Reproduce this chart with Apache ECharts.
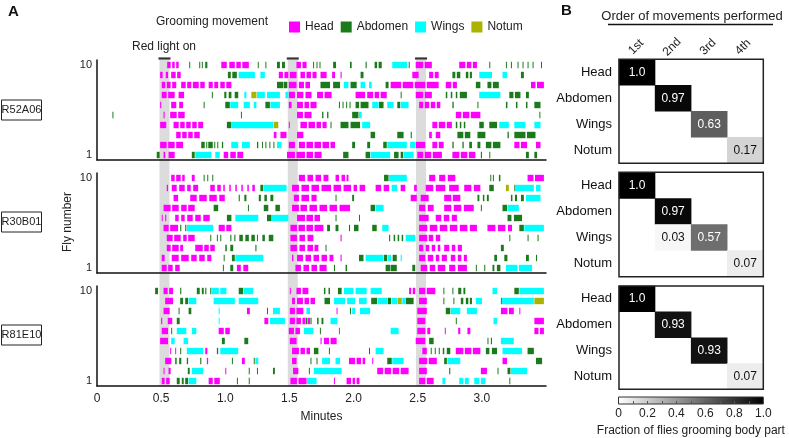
<!DOCTYPE html>
<html><head><meta charset="utf-8">
<script src="https://cdn.jsdelivr.net/npm/echarts@6/dist/echarts.min.js"></script>
<style>html,body{margin:0;padding:0;background:#fff}#c{width:789px;height:438px}</style>
</head><body><div id="c"></div>
<script>
// ---------- data ----------
const BIN_MIN = 1 / 64;           // bout times are written in bins of 1/64 minute
const behaviours = ['Head', 'Abdomen', 'Wings', 'Notum'];
const codes = { H: 'Head', A: 'Abdomen', W: 'Wings', N: 'Notum' };
const colours = ['#ff00ff', '#1b7a1b', '#00ffff', '#a9b300'];
const lines = ['R52A06', 'R30B01', 'R81E10'];
const lightOn = [[0.487, 0.565], [1.487, 1.565], [2.487, 2.565]];
const xTicks = [0, 0.5, 1, 1.5, 2, 2.5, 3];
const flyTicks = [1, 10];

// one string per fly (fly 1 first); token = behaviour code + start bin [- end bin]
const bouts_R52A06 = [
 "A29.8-31.5 H33.2-34.3 H35.7-39 A47.3-49 W49-57.3 W59-61.5 H63.2-65.7 H66.5-69.5 H70-73.2 H94.8-99 H99.5-104 H104.5-108 H108.5-112.3 A122.8-125.7 A134-136.5 W136.5-146.5 A148.2-150.7 A151.5-153 W153-158.2 H159.8-163 H163.5-167 H167.5-172.3 H177.3-181 H181.5-185 H185.5-189 A191.5-192.3 A195.7 A214-215.7 A218.2-219.8",
 "H31.5-35 H35.5-39 H39.5-43.2 A52-54 A54.5-55 A55.5-58 A58.5-59 A60-60.7 A62.3-63.2 W67-70.7 W72.3-76.5 A79.8-80.7 A82.3 A84 A86 A88 W89.8-92.3 H95.7-99 H100.7-104 H104.5-108 H108.5-112 H112.5-116 H116.5-119 A127.3-129 A134.8-136.5 A142.8-144.8 W144.8-154.8 W156.2-159 H159-164 H167.3-170 H170.5-173.2 A177.3-178.2 A182.3-183.2 A185.7-187.3 A189.8-191.5 A194-197 A197.5-201.5 H208.2-211 H211.5-214.8 H219-221.5",
 "H39.5-42 H42.5-45 H45.5-48 H48.5-51.5 H88.2-89.8 H91.5-94.8 H99.8-103.2 A136.5-139 A149.8-153.2 A156.5-157.3 H165.7-167.3 H169-171.5 A179.8-183 A183.5-186.5 A189.8-194 A204.8-205.7 A208.2-214 A214.5-219",
 "H31.5-34.8 H38.2-41 H41.5-44 H44.5-47 H47.5-50 H50.5-53.2 A64.8-67.3 W67.3-88.2 N88.2-90.7 H95.7 H101.5-105 H105.5-109 H109.5-112 H112.5-114.8 A116.5 A121.5-125.7 A126.5-131.5 W132.3-136.5 H167.3-170 H170.5-174 H174.5-177.3 A179-180 A181-182 A183-184 A190.7-193.2 A195.7-199.8 W200.7-205.7 W208.2-214 W218.2-221.5",
 "A7.7 H33.2-34 H36.5-40 H40.5-44 A71.8 H99.8-103 H103.5-107.3 A112.3-113.2 A114.8-115.7 A127.3-130.7 W130.7-132.3 H179-182 H182.5-186 H186.5-191.5 A220.7",
 "H31.5-32.3 H37-39.8 H41-43.2 A53.2 A64-66.5 W66.5-70.7 W73.2-76.5 W78.2-79.8 A84-86.5 W86.5-91.5 H95.7-97.3 H99.8-103 H103.5-106 H106.5-109.8 A120.7 A122.5 A124.3 A126 A129-131 A131.5-135.7 W137.3-140.7 A140.7-143.2 W144.8-148.2 A149.8-151.5 W151.5-155.7 H160.7-163 H163.5-166 H166.5-169 H169.5-171.5 A177.3-178.2 A189.8 A204-205 A209-210 A214-215 A218.2-221.5",
 "H32.3-35 H35.5-39 H40.7-43.7 A57.3 A63.5-64.8 A65.7-67.3 A68.7-70.7 W73.5-74.8 N77-79.8 W79.8-84 W84.8-91.5 W94-95.7 H95.7-99 H99.8-103.2 H104-107.3 H109.8-113 H113.5-117.3 H129-134 H134.8-138 H138.5-141 H141.5-144.8 A151.5 H159-163 H163.5-167.3 A174-175 A176.5-177.5 A179-180 A181-184.8 W190.7-201.5 A205.7-208 A208.5-211.5 A214-215.7",
 "H32.3-34.3 H34.8-37 H37.5-39.8 H42-44.5 H45-47.3 H47.8-51 H51.5-54 H55.7-58 H58.5-60.7 H61.5-64 H64.5-67.3 A89.8-93.2 A93.2-95.2 H95.7-99.8 H100.7-103.5 H104-106.5 A111.5-116.5 A117.8-121.5 W123.2-125.7 A126.5-129.8 W131.5-134 W135.7-137.3 A144-145.7 H146.5-152 H152.5-158 H158.5-164 H164.5-170.7 H174-177 H177.5-179.8 A189-191.5 A194.8-197 A197.5-200.7 H216.5-219 H219.5-223.2",
 "H31.5-33 H34.3-35.7 H37-39.5 H40-42 A65.3-67 A67.5-70 W70.7-79 W81.5-84 H90.7-93 H93.5-95.7 H96.2-99.8 H101.5-104 H104.5-107 H107.5-109.8 H111.5-114.8 H117.3-119 H121.5-122.3 A131.5-133.2 H157.3-160.7 H165.7-168 H168.5-170.7 A177.3-179 A179.5-181.5 A184-185.5 A186-187.3 W190.7-197.3 W202.3-204.8 A211.5-213.2",
 "H35-37 H37.5-39 H39.5-41 A46 A51 A52.3 A54-55.3 H62-65 H66-69 H69.5-72 H72.5-76 A80.2 A84 A89.8-91.5 A92.3-94 H99.5-102 H102.5-104.8 A107.8-108.5 A109.5-110.2 A111-111.5 A117.8-119.5 A126.2-127.3 A134-134.8 A138.5-140 A140.5-142.3 W147.3-155 A155.5 H159-163 H163.5-167.3 H180.7-184 H184.5-187 H187.5-189.8 A195.7 A204 A206.5 A209.8 A212.3 A214.8 A217.3 A221.5"
];
const bouts_R30B01 = [
 "H32.3-35 H35.5-38 H39-41.5 A62.8 A66.5-68.2 H69.8-72 H73-75.7 H99-102 H103-106 H107-110 H111-114.8 A118.2-119 A124-125 A144-146.5 A146.5-149.8 A157.3-159 H161.5-165 H166-169 H170-174 H175.7-179 H180-184.8 A189 A193.2 A197.3-198.5 A199.5-201.5 W204-210 W210.5-217.3",
 "H32.3-34 H37.3-41 H42-46 H47-50 H51-54 H55-57.3 A63.2 A67.3-69 W69-83.2 H97.3-98.2 H99.8-103 H104-107 H108-111 H112-115 H116-118.2 H121.5-122.3 A130.7-133.2 W134-143.2 A143.2-145 W145-147 A147.5-149.8 W151.5-152.3 H160.7-164 H165-168 H169-171 H172-174.8 H176.5-179 H180-182 H183-184.8 A198.2-199.8 A203.2-205 A214-215.7 A219-219.8",
 "H34.8-37 H37.5-41 H41.5-43.2 H49-53 H53.5-56 H56.5-59 A64-65 A66.5-68.2 A79-79.8 H96.5-100 H101-104 H105-108 H108.5-110.7 A114 H160.7-163 H164-166 H167-169 H170-171.5 H173.2-176 H177-179 H180-182.3 A201.5-203.2",
 "H34.8-38 H38.5-42 H43-45 H45.5-49 A56.5 A59.8 A61.5 A66.5-67.3 A68.5-69.3 A71-73 A74-76 A77-79 A79.8-80.5 A82.5-84 A85.7-88.2 H96.5-100 H101-104 H105-108.2 H121.5-122.3 A145.7-146.5 A148-149 A150-151 A152-153 W154-159 H160.7-165 H165.5-168 H169-171.5 A205.7 A214.8 A219.8",
 "H33.2-36 H36.5-40.7 A41.5-42.3 A44-44.8 W44.8-58.2 H60.7-64 H64.5-67.3 H96.5-100 H100.5-104 H104.5-108 H108.5-113.2 A114.8-116.5 A119-120.7 A125.7-126.5 A128.2-130.7 A137.3-139.8 W142.3-145.7 H160.7-165 H166-170 H171-175 H176-180 H181-185 H186-189.8 H194.8-199 H200-204 H205-207.3 A210.7-213.2 W213.2-223.2",
 "H32.3-33 H34-34.8 H39-41 H42-44 H45-48 H49-52 H53-56.5 A64.8-67.3 W69-80.7 A84.8-87.3 W87.3-95.7 H99.8-104 H104.5-108 H108.5-111.5 A119 A130.7 H160.7-165.7 H169-172 H173-176 H177-179.8 A204.8-207 A208-212.3",
 "H33.2-37 H37.5-41 H42-45 H45.5-49 A58.2-60.7 A75.3 A83.2-85.7 A89-91.5 H97.3-101 H101.5-105 H106-110 H111-115 H116-120 H121-126.5 A136.5-139 W139-143.2 H160.7-164 H165-168.2 H173.2-177 H178-182 H183-188.2 A191.5 A202.3-204.8 W204.8-210.7",
 "H38.2-40.7 H46.5-50 H51-55 H56-60 H61-64 A70.7-71.5 A73.5-74.8 A80.7-82 A83.5-85 A86.5-88.2 H98.2-101 H102-106 H107-109.8 A119 A127.3-128.5 H156.5-159.8 H161.5-165.7 H173.2-177 H177.5-181.5 A189.8-191 A192.5-193.5 A194.5-195.7 A206.5-207.5 A208.5-209.8 A211.5-213.2 W214-221.5",
 "H34.8-35.7 H37.3-40 H41-44 H45-47 H48-50.7 H56.5-59 H60-62 H63-64 H66-67 H69-70 H72-73 H75-76 H77.5-79 A81.5-83.2 W83.2-94.8 H97.3-101 H102-106 H107-111 H112-117 H118-122 H123-127 H128-130 H131-134 H139-142 H143-146 W147-150 H151.5-154 H158.2-159.8 H164-168 H169-174 H175.7-180.7 H183.2-187 H188-191.5 A195.7-198.2 N204-205.7 A208.2-209 W209-218.2 W219-221.5",
 "H37-39 H39.5-42 H42.5-44 H47.3-49 A53.2 A55 A57.5 H100.7-104 H105-108 H109-112 H113-115.7 H119-121 H122-124 H124.5-125.7 A143.2-145.7 W145.7-154.8 H165.7-169 H170.7-174 H175-179 A196.2 A197.5 A200.5-201.5 H214.8-218 H218.5-223.2"
];
const bouts_R81E10 = [
 "H32.3-34 H34.5-36.5 A39.8-41.5 A42.3-43.5 A44-45.7 W45.7-49.8 H55.7-58 H58.5-61.5 A69.8 A75.7 H96.5-100 H100.5-104.8 W104.8-109.8 H118.2 H124.5-127 H127.5-129 H129.5-131.2 H160.7-164 H164.5-168.2 W172.3-174 W180.7-183 W183.5-185.7 W188.2-191 W191.5-194 A205.7",
 "H33.2 H35.7-37 A45.3-46.5 W47.3-53.2 H64 A75.7 A79.8 A87.8-89 H97.8-100.7 A105.7 W108.2-122.3 H139.8-143 H143.5-147 H147.5-151 H151.5-155.7 H160.7-164.8 A175.7-176.5 H191.5-194.8 A199.8 A204.8-206.5 W206.5-214.8",
 "H34-37.3 A39-40 A41-42.3 A44.8-45.7 A51.5-52.3 H54.8-55.7 A67.3 H72.3-74 A78.2 W79-80.7 H97.3-99.8 A106.5 A109.5 W112.3-116.5 W119-121.5 H125.7-129 H129.5-132 H132.5-134 H137.3 A144.8-147.3 W147.3-153.2 H160.7-165 H165.5-169.8 A173.2-174.8 W174.8-181.5 H202.3-204.8 A219-222.3",
 "H36.5 H39 A41.5 W44.8-53.2 H54-55.3 A59.8-60.7 W61.5-70.7 H97.3-101 H101.5-104 H104.5-106.5 A108.2-110.7 A115.7 A135.7 W139-143.2 H162.3-164.8 A166.5 A168.5 A170.5 A172.5-173.5 A174.5-176.5 H179-183 H183.5-187 H187.5-191.5 A194-196 A197-199.8 W202.3-212.3 A214.8-218.2",
 "H31.5-35.7 W37-39 W43.2-45.7 A62.3-64 A73.5-75.7 H96.2-99.8 H111.5-112.3 H113.2-116 H116.5-119.8 H159-164 A165.7-168.2 A194.8 A196.5-197.3 W201.5-208.2",
 "H32.3-35.7 A37 W39.8-44.8 W47.3-49.8 H60.7-63.5 H64-66.5 H95.7-98.5 H99-101.5 W103.2-108.2 A111.2 H120.7 W146.5-150.7 H159.8-164 H164.8-166.5 H173.5 H180.2-181.5 H184.8-186.5 H218.2-220.5 H221-223.2",
 "H32-32.8 H35.3-37.8 A39.8-41.5 W60.7 H83.5-85.7 W86.2-94 H96.2-99 H99.5-102 H102.5-104 A104-105 H105-106.5 A106.5-107.3 A109.8-110.8 A112-113.2 W116.5-120.2 H159.8-164 A179 W197.8-199.8 H218.2-223.2",
 "H33.2-36.5 A40.7 A45.7-47.3 W60.7 H74.8-76.5 A84.8 W87.8-91.5 H96.2-99 H99.5-103.2 W104.5-106.5 H119.5 A126.2 W127.3-129 W131.2-136.5 H159.8-164.8 A174-176.5 W176.5-181.5 W184.5-189.8 H201.5-205 H205.5-208.2 H210.7",
 "H34-38.2 A41.5-43.2 A44-45.7 W45.7-49.8 W58.2-69 W70.7-80.7 H97.3-99 H99.8-103 H103.5-106 H106.5-109 A113.5-116.5 W118.2-124 W124.8-129 W130.7-134.8 A136.8-140 W140-145 A145-147 W147-150 N150-152.3 W152.3-154 A154-158.2 H160.7-164.8 A172.8 A177.8 A181.5-183 A184-185.5 A186-187.3 W189-192.3 A201.5 W202-218.2 N218.2-223.2",
 "A29-30.7 H33.2-35.5 H36-38.2 A41.5-42.3 A49.8-51.5 A52.3-53.5 A54-54.8 A56.5-57.3 W57.3-61 W61.5-64.8 A70.7-73.2 W73.2-78.2 H96.2 H99.5-102 H102.5-105.7 A113.2-114.2 A115.5-116.5 A120.2-122.3 W123.2-128.2 W129-134.8 W136.5-142.3 H155.7-157 H157.5-159 H160.7-164 H164.5-169 A172.8 A177.3 A180.2-182 A182.8-184 W197.3-199.8 A208.2-210.7 W210.7-223.2"
];

// panel B: fraction of flies, [column index, row index, value]
const orderCols = ['1st', '2nd', '3rd', '4th'];
const orderRows = ['Head', 'Abdomen', 'Wings', 'Notum'];
const order_R52A06 = [[0, 0, 1.0], [1, 1, 0.97], [2, 2, 0.63], [3, 3, 0.17]];
const order_R30B01 = [[0, 0, 1.0], [1, 1, 0.97], [1, 2, 0.03], [2, 2, 0.57], [3, 3, 0.07]];
const order_R81E10 = [[0, 0, 1.0], [1, 1, 0.93], [2, 2, 0.93], [3, 3, 0.07]];
const cbTicks = [0, 0.2, 0.4, 0.6, 0.8, 1.0];
const cbMinor = [0.1, 0.2, 0.3, 0.4, 0.5, 0.6, 0.7, 0.8, 0.9];

// ---------- build ----------
const FONT = "'Liberation Sans', Arial, sans-serif";
function parseBouts(rows) {
  const out = { Head: [], Abdomen: [], Wings: [], Notum: [] };
  rows.forEach((s, i) => {
    const fly = i + 1;
    s.trim().split(/\s+/).forEach(tok => {
      const m = tok.match(/^([HAWN])([\d.]+)(?:-([\d.]+))?$/);
      if (!m) return;
      const a = parseFloat(m[2]);
      const b = m[3] !== undefined ? parseFloat(m[3]) : a + 0.5;
      out[codes[m[1]]].push([a * BIN_MIN, b * BIN_MIN, fly]);
    });
  });
  return out;
}
const allBouts = [bouts_R52A06, bouts_R30B01, bouts_R81E10].map(parseBouts);
const orders = [order_R52A06, order_R30B01, order_R81E10];

const panelTops = [60, 173, 286];
const hmTops = [59.3, 172.3, 286];
const hmHeights = [104, 104.4, 103.3];
const hmLeft = 619, hmWidth = 144.3;

const grids = [], xAxes = [], yAxes = [], series = [];
panelTops.forEach((t, p) => {
  grids.push({ left: 97, top: t, width: 449, height: 100 });
  xAxes.push({
    gridIndex: p, type: 'value', min: 0, max: 3.5, z: 5,
    axisLine: { show: true, lineStyle: { color: '#111', width: 1.5 } },
    axisTick: { show: false }, splitLine: { show: false },
    axisLabel: p === 2 ? { show: true, customValues: xTicks, margin: 7, fontSize: 12, color: '#222', fontFamily: FONT,
      formatter: v => v === 0 ? '0' : v.toFixed(1) } : { show: false },
    name: p === 2 ? 'Minutes' : '', nameLocation: 'middle', nameGap: 25,
    nameTextStyle: { fontSize: 12, color: '#222', fontFamily: FONT }
  });
  yAxes.push({
    gridIndex: p, type: 'value', min: 0.5, max: 10.5, z: 5,
    axisLine: { show: true, lineStyle: { color: '#111', width: 1.5 } },
    axisTick: { show: false }, splitLine: { show: false },
    axisLabel: { show: true, customValues: flyTicks, margin: 5, fontSize: 11, color: '#222', fontFamily: FONT }
  });
});
// band grid (index 3)
grids.push({ left: 97, top: 60, width: 449, height: 326 });
xAxes.push({ gridIndex: 3, type: 'value', min: 0, max: 3.5, show: false });
yAxes.push({ gridIndex: 3, type: 'value', min: 0, max: 1, show: false });
// heatmap grids (4-6)
hmTops.forEach((t, i) => {
  grids.push({ left: hmLeft, top: t, width: hmWidth, height: hmHeights[i] });
  xAxes.push({ gridIndex: 4 + i, type: 'category', data: orderCols, show: false });
  yAxes.push({
    gridIndex: 4 + i, type: 'category', data: orderRows, inverse: true,
    axisLine: { show: false }, axisTick: { show: false }, splitLine: { show: false },
    axisLabel: { margin: 7, fontSize: 13, color: '#111', fontFamily: FONT }
  });
});
// colour bar grid (7)
grids.push({
  left: 618.5, top: 397, width: 144.8, height: 9, show: true, borderColor: '#333', borderWidth: 1,
  backgroundColor: { type: 'linear', x: 0, y: 0, x2: 1, y2: 0, colorStops: [{ offset: 0, color: '#ffffff' }, { offset: 1, color: '#000000' }] }
});
xAxes.push({
  gridIndex: 7, type: 'value', min: 0, max: 1,
  axisLine: { show: false }, splitLine: { show: false },
  axisTick: { show: true, inside: true, length: 3, customValues: cbMinor, lineStyle: { color: '#555', width: 1 } },
  axisLabel: { customValues: cbTicks, margin: 4, fontSize: 12, color: '#222', fontFamily: FONT,
    formatter: v => v === 0 ? '0' : v.toFixed(1) },
  name: 'Fraction of flies grooming body part', nameLocation: 'middle', nameGap: 21,
  nameTextStyle: { fontSize: 12, color: '#222', fontFamily: FONT }
});
yAxes.push({ gridIndex: 7, type: 'value', min: 0, max: 1, show: false });

// bout series
for (let p = 0; p < 3; p++) {
  behaviours.forEach((b, k) => {
    series.push({
      type: 'custom', name: b, xAxisIndex: p, yAxisIndex: p, z: 3,
      itemStyle: { color: colours[k] },
      encode: { x: [0, 1], y: 2 },
      data: allBouts[p][b],
      renderItem: (params, api) => {
        const s = api.coord([api.value(0), api.value(2)]);
        const e = api.coord([api.value(1), api.value(2)]);
        const h = 6.4;
        const w = Math.max(e[0] - s[0] - 0.5, 1);
        return { type: 'rect', shape: { x: s[0], y: s[1] - h / 2, width: w, height: h }, style: { fill: colours[k] } };
      }
    });
  });
}
// red-light bands
series.push({
  type: 'custom', xAxisIndex: 3, yAxisIndex: 3, z: 1, clip: false, silent: true,
  data: lightOn, encode: { x: [0, 1] },
  renderItem: (params, api) => {
    const a = api.coord([api.value(0), 1]);
    const b = api.coord([api.value(1), 0]);
    return { type: 'group', children: [
      { type: 'rect', shape: { x: a[0], y: a[1], width: b[0] - a[0], height: b[1] - a[1] }, style: { fill: '#dcdcdc' } },
      { type: 'rect', shape: { x: a[0] - 1, y: a[1] - 2.6, width: b[0] - a[0] + 2, height: 2.2 }, style: { fill: '#333' } }
    ] };
  }
});
const hmSeriesIdx = [];
orders.forEach((d, i) => {
  hmSeriesIdx.push(series.length);
  series.push({
    type: 'heatmap', xAxisIndex: 4 + i, yAxisIndex: 4 + i, z: 2,
    data: d.map(r => ({ value: r, label: { color: r[2] > 0.4 ? '#ffffff' : '#111111' } })),
    label: { show: true, fontSize: 12, fontFamily: FONT, formatter: p => p.value[2] === 1 ? '1.0' : p.value[2].toFixed(2) },
    emphasis: { disabled: true }
  });
});

// ---------- graphics ----------
const g = [];
const txt = (x, y, text, o = {}) => g.push(Object.assign({ type: 'text', x, y, z: 10,
  style: Object.assign({ text, fontSize: 12, fontFamily: FONT, fill: '#222', align: 'left', verticalAlign: 'middle' }, o.style || {}) }, o.el || {}));
txt(8, 12, 'A', { style: { fontSize: 15, fontWeight: 'bold', fill: '#111' } });
txt(561, 11, 'B', { style: { fontSize: 15, fontWeight: 'bold', fill: '#111' } });
txt(156, 22, 'Grooming movement');
txt(132, 47, 'Red light on');
txt(68, 222, 'Fly number', { style: { align: 'center' }, el: { rotation: Math.PI / 2 } });
const boxYs = [110, 222, 335];
lines.forEach((name, i) => {
  g.push({ type: 'rect', z: 10, shape: { x: 1.5, y: boxYs[i] - 10, width: 40, height: 20 }, style: { fill: '#fff', stroke: '#222', lineWidth: 1 } });
  txt(21.5, boxYs[i], name, { style: { align: 'center', fontSize: 11 } });
});
txt(692, 16, 'Order of movements performed', { style: { align: 'center', fontSize: 13 } });
g.push({ type: 'line', z: 10, shape: { x1: 608, y1: 24.5, x2: 773, y2: 24.5 }, style: { stroke: '#111', lineWidth: 1.5 } });
const colX = [636, 672, 708, 743];
orderCols.forEach((c, i) => txt(colX[i], 47, c, { style: { align: 'center', fontSize: 12 }, el: { rotation: Math.PI / 4 } }));
hmTops.forEach((t, i) => g.push({ type: 'rect', z: 10, shape: { x: hmLeft, y: t, width: hmWidth, height: hmHeights[i] }, style: { fill: 'none', stroke: '#222', lineWidth: 1.5 } }));

const chart = echarts.init(document.getElementById('c'));
chart.setOption({
  animation: false,
  backgroundColor: '#fff',
  textStyle: { fontFamily: FONT },
  legend: {
    data: behaviours, left: 284, top: 16, icon: 'rect', itemWidth: 11, itemHeight: 11, itemGap: 7,
    selectedMode: false, textStyle: { fontSize: 12, color: '#222', fontFamily: FONT }
  },
  visualMap: { type: 'continuous', min: 0, max: 1, show: false, seriesIndex: hmSeriesIdx, inRange: { color: ['#ffffff', '#000000'] } },
  grid: grids, xAxis: xAxes, yAxis: yAxes, series, graphic: g
});
</script></body></html>
